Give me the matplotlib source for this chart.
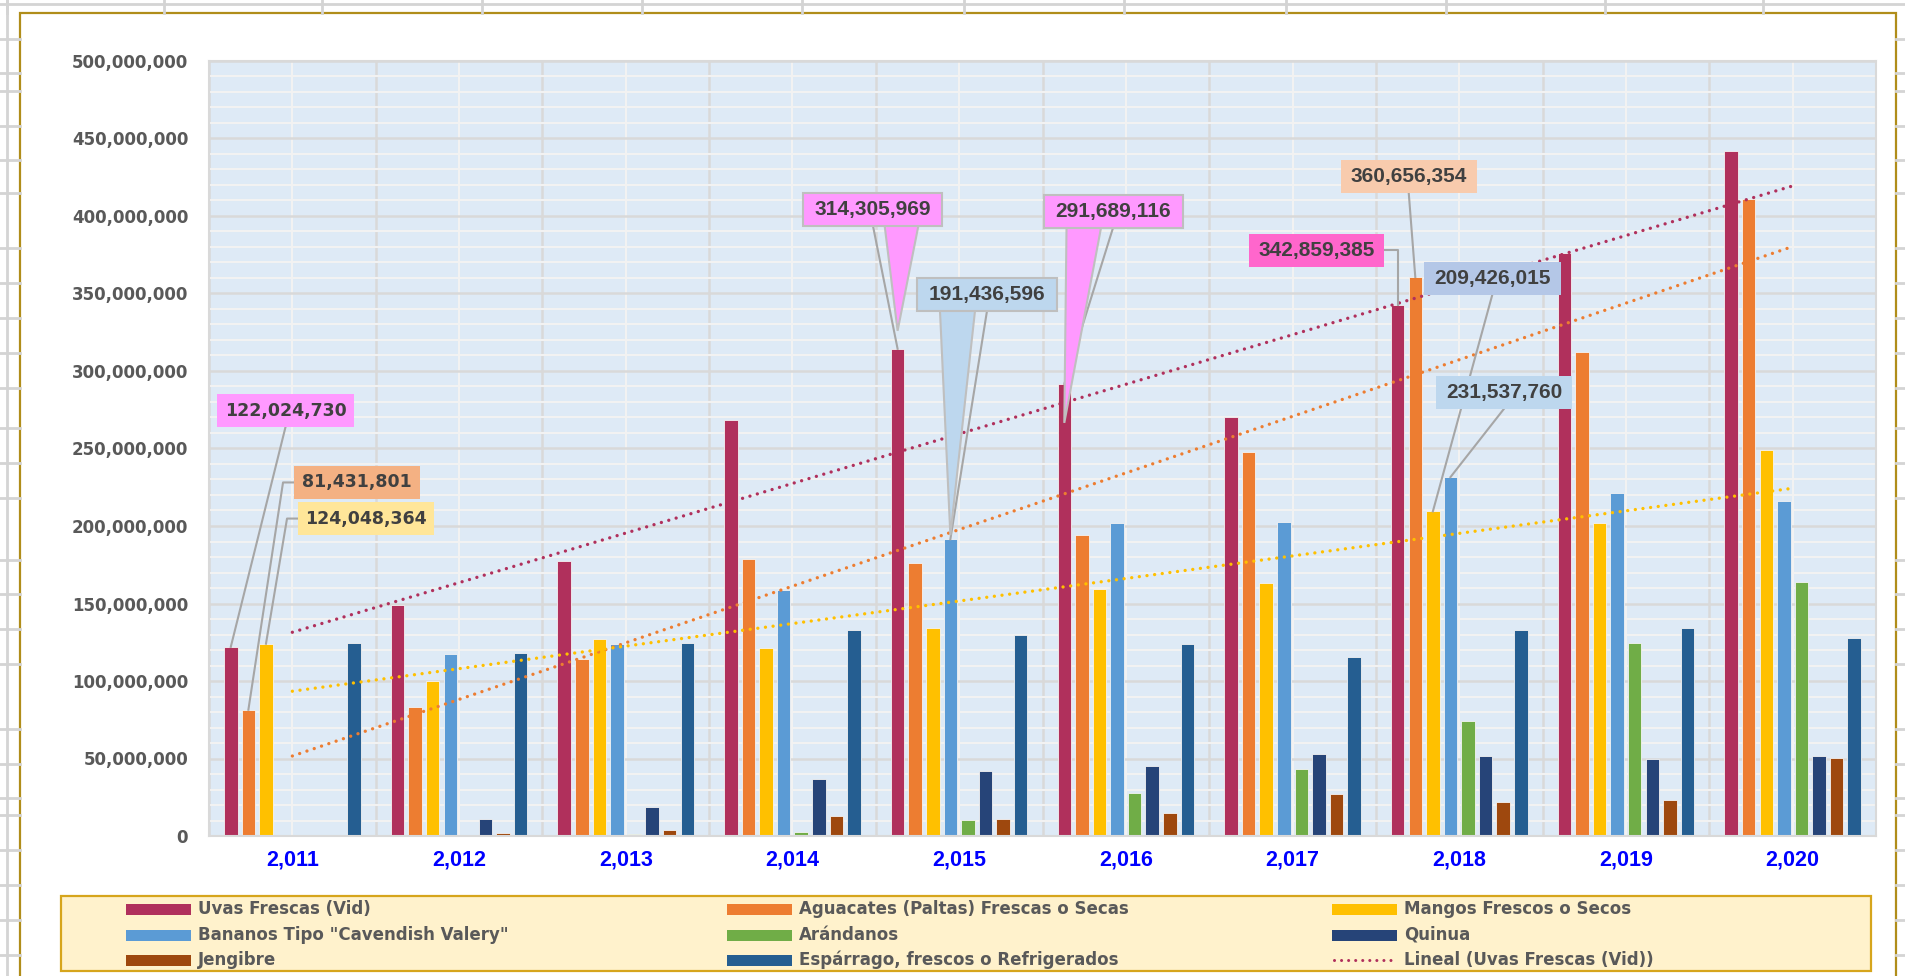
import numpy as np
import matplotlib.pyplot as plt
from matplotlib.patches import Rectangle, Polygon
from matplotlib.ticker import FuncFormatter, MultipleLocator

plt.rcParams['font.family'] = ['DejaVu Sans']

# ---- data ----
years = ['2,011', '2,012', '2,013', '2,014', '2,015', '2,016', '2,017', '2,018', '2,019', '2,020']

uvas = [122024730, 149000000, 177500000, 268600000, 314305969, 291689116, 270000000, 342859385, 376300000, 442000000]
aguacates = [81431801, 83200000, 114400000, 178900000, 176000000, 194000000, 247500000, 360656354, 312500000, 411000000]
mangos = [124048364, 100000000, 127000000, 121000000, 134000000, 159400000, 163200000, 209426015, 201700000, 249000000]
bananos = [200000, 117400000, 123700000, 158900000, 191436596, 201700000, 202600000, 231537760, 221500000, 216300000]
arandanos = [300000, 500000, 1300000, 2800000, 10500000, 27700000, 43400000, 74200000, 124800000, 164000000]
quinua = [500000, 11000000, 18500000, 36800000, 42000000, 45000000, 52700000, 51800000, 49700000, 51800000]
jengibre = [0, 2000000, 3700000, 12700000, 11200000, 14800000, 26900000, 21700000, 23200000, 50300000]
esparrago = [124500000, 118000000, 124700000, 133100000, 130000000, 124000000, 115700000, 133000000, 134000000, 128000000]

series_names = ['Uvas Frescas (Vid)', 'Aguacates (Paltas) Frescas o Secas', 'Mangos Frescos o Secos',
                'Bananos Tipo "Cavendish Valery"', 'Arándanos', 'Quinua', 'Jengibre',
                'Espárrago, frescos o Refrigerados']
series_vals = [uvas, aguacates, mangos, bananos, arandanos, quinua, jengibre, esparrago]
series_colors = ['#B0305C', '#ED7D31', '#FFC000', '#5B9BD5', '#70AD47', '#264478', '#9E480E', '#255E91']

# callouts: series index, year index, box centre (x in categories, y in units)
co_series = [0, 1, 2, 0, 3, 0, 1, 0, 2, 3]
co_year = [0, 0, 0, 4, 4, 5, 7, 7, 7, 7]
co_x = [-0.041, 0.388, 0.442, 3.483, 4.167, 4.923, 6.697, 6.144, 7.198, 7.268]
co_y = [274.5e6, 228.1e6, 204.8e6, 404.3e6, 349.4e6, 403.0e6, 425.5e6, 377.8e6, 359.7e6, 286.2e6]
co_fill = ['#FF99FF', '#F4B183', '#FFE699', '#FF99FF', '#BDD7EE', '#FF99FF',
           '#F8CBAD', '#FF66CC', '#B4C7E7', '#BDD7EE']
co_leader = ['bottom', 'left', 'left', 'bottom', 'bottom', 'bottom', 'bottom', 'right', 'bottom', 'bottom']
co_wpx = [137, 126, 136, 139, 140, 139, 136, 135, 137, 136]
# wedge callouts: base offsets (px from box centre) and tip offset (px above bar top)
co_wedge = {3: (11.7, 45.4, 18), 4: (-47, -12, 4), 5: (-46.5, -12, -39)}

n = len(years)
x = np.arange(n)
slot = 0.1055
bw = 0.081
dots = (0, (0.01, 2.3))

fig = plt.figure(figsize=(19.05, 9.76), dpi=100)

# ---- spreadsheet background, chart frame, legend box (pixel coords) ----
bg = fig.add_axes([0, 0, 1, 1], zorder=-1)
bg.set_xlim(0, 1905)
bg.set_ylim(976, 0)
bg.axis('off')
grid_c = '#D4D4D4'
bg.plot([0, 1905], [4, 4], color=grid_c, lw=2)
for cx in [7, 164, 322, 482, 642, 802, 964, 1124, 1286, 1446, 1605, 1763]:
    bg.plot([cx, cx], [0, 13], color=grid_c, lw=2)
bg.plot([7, 7], [0, 976], color=grid_c, lw=2)
rows = [39, 73, 91, 126, 160, 193, 248, 283, 318, 353, 388, 428, 463, 498, 560, 594,
        629, 664, 729, 764, 798, 815, 850, 885, 920, 955]
for ry in rows:
    bg.plot([0, 20], [ry, ry], color=grid_c, lw=2)
    bg.plot([1896, 1905], [ry, ry], color=grid_c, lw=2)
bg.add_patch(Rectangle((20, 13), 1876, 1000, facecolor='white', edgecolor='#B08D1A', lw=1.6))

bg.add_patch(Rectangle((61, 896), 1810, 75, facecolor='#FFF2CC', edgecolor='#D6A51C', lw=1.6))
leg_cols = [126, 727, 1332]
leg_rows = [909, 935, 960]
for k in range(9):
    lx = leg_cols[k % 3]
    ly = leg_rows[k // 3]
    if k < 8:
        bg.add_patch(Rectangle((lx, ly - 5.5), 65, 11, facecolor=series_colors[k], edgecolor='none'))
        label = series_names[k]
    else:
        bg.plot([lx + 2, lx + 63], [ly, ly], color=series_colors[0], lw=2.2,
                linestyle=dots, dash_capstyle='round')
        label = 'Lineal (Uvas Frescas (Vid))'
    bg.text(lx + 72, ly, label, fontsize=12, fontweight='bold', color='#595959',
            va='center', ha='left')

# ---- main plot ----
ax = fig.add_axes([209 / 1905, 140 / 976, 1667 / 1905, 775 / 976])
ax.set_facecolor('#DEEAF6')

for j, vals in enumerate(series_vals):
    ax.bar(x + (j - 3.5) * slot, vals, width=bw, color=series_colors[j],
           edgecolor='#F4F4F4', linewidth=0.6, zorder=2, label=series_names[j])

# linear trendlines
for j in [0, 1, 2]:
    m, b = np.polyfit(x, series_vals[j], 1)
    ax.plot([x[0], x[-1]], [m * x[0] + b, m * x[-1] + b], color=series_colors[j], lw=2.4,
            linestyle=dots, dash_capstyle='round', zorder=4)

ax.set_xlim(-0.5, n - 0.5)
ax.set_ylim(0, 500e6)
ax.set_xticks(x)
ax.set_xticklabels(years)
ax.set_xticks(np.arange(-0.5, n, 1), minor=True)
ax.yaxis.set_major_locator(MultipleLocator(50e6))
ax.yaxis.set_minor_locator(MultipleLocator(10e6))
ax.yaxis.set_major_formatter(FuncFormatter(lambda v, p: '{:,.0f}'.format(v)))
ax.set_axisbelow(True)
ax.grid(which='minor', axis='y', color='#F2F2F2', lw=1.5)
ax.grid(which='major', axis='x', color='#F2F2F2', lw=1.5)
ax.grid(which='major', axis='y', color='#D9D9D9', lw=1.8)
ax.grid(which='minor', axis='x', color='#D9D9D9', lw=1.8)
ax.tick_params(which='both', length=0)
ax.tick_params(axis='y', pad=15, labelsize=12, labelcolor='#595959')
ax.tick_params(axis='x', pad=10, labelcolor='#0000FF')
for t in ax.get_yticklabels():
    t.set_fontweight('bold')
for t in ax.get_xticklabels():
    t.set_fontweight('bold')
    t.set_fontfamily(['Liberation Sans', 'DejaVu Sans'])
    t.set_fontsize(15.5)
for s in ax.spines.values():
    s.set_color('#D9D9D9')
    s.set_linewidth(1.5)

# ---- callouts ----
px_x = 10 / 1667.0
px_y = 500e6 / 775.0
lead_c = '#A6A6A6'
for i in range(len(co_series)):
    sj = co_series[i]
    yi = co_year[i]
    bx = yi + (sj - 3.5) * slot
    by = series_vals[sj][yi]
    cx, cy = co_x[i], co_y[i]
    hw = co_wpx[i] / 2 * px_x
    hh = 16.5 * px_y
    if co_leader[i] == 'bottom':
        ax.plot([cx, bx], [cy - hh, by], color=lead_c, lw=1.5, zorder=5)
    elif co_leader[i] == 'left':
        ax.plot([cx - hw, cx - hw - 11 * px_x, bx], [cy, cy, by], color=lead_c, lw=1.5, zorder=5)
    else:
        ax.plot([cx + hw, bx, bx], [cy, cy, by], color=lead_c, lw=1.5, zorder=5)
    edge = 'none'
    if i in co_wedge:
        a, b2, tip = co_wedge[i]
        ax.add_patch(Polygon([(cx + a * px_x, cy - hh), (cx + b2 * px_x, cy - hh),
                              (bx, by + tip * px_y)], closed=True, facecolor=co_fill[i],
                             edgecolor='#BFBFBF', lw=1.5, zorder=6))
        edge = '#BFBFBF'
    ax.add_patch(Rectangle((cx - hw, cy - hh), 2 * hw, 2 * hh, facecolor=co_fill[i],
                           edgecolor=edge, lw=1.5, zorder=7))
    if i < 3:
        ax.text(cx, cy, '{:,.0f}'.format(by), ha='center', va='center', fontsize=12.5,
                fontweight='bold', color='#404040', zorder=8)
    else:
        ax.text(cx, cy, '{:,.0f}'.format(by), ha='center', va='center', fontsize=15,
                fontweight='bold', color='#404040', zorder=8,
                family=['Liberation Sans', 'DejaVu Sans'])

fig.savefig('out.png', dpi=100)
